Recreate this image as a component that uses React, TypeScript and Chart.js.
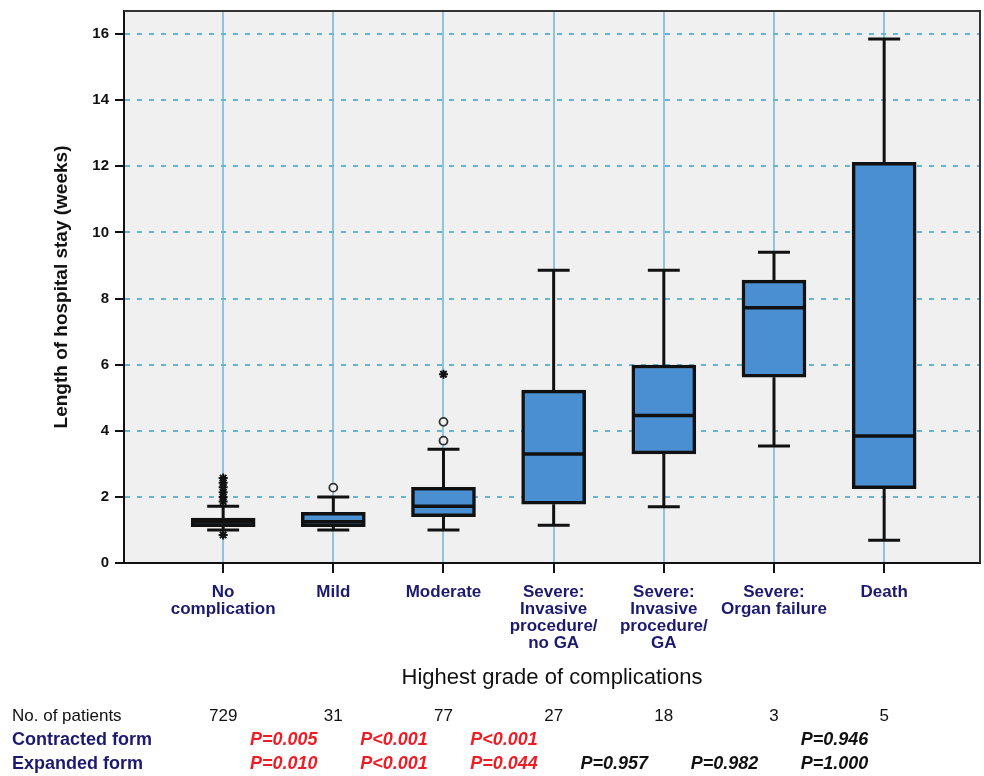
import React, { useEffect, useRef } from 'react';
import { Chart, registerables } from 'chart.js';

Chart.register(...registerables);

// ---- data ----
const categories: string[][] = [
  ['No', 'complication'],
  ['Mild'],
  ['Moderate'],
  ['Severe:', 'Invasive', 'procedure/', 'no GA'],
  ['Severe:', 'Invasive', 'procedure/', 'GA'],
  ['Severe:', 'Organ failure'],
  ['Death'],
];
const whiskerLow = [1.0, 1.0, 1.0, 1.14, 1.7, 3.54, 0.69];
const q1 = [1.1, 1.1, 1.4, 1.78, 3.3, 5.62, 2.25];
const medians = [1.24, 1.25, 1.72, 3.3, 4.46, 7.72, 3.84];
const q3 = [1.36, 1.53, 2.29, 5.23, 5.99, 8.56, 12.12];
const whiskerHigh = [1.72, 2.0, 3.44, 8.86, 8.86, 9.4, 15.85];
const circleOutliers: number[][] = [[], [2.28], [3.7, 4.27], [], [], [], []];
const starOutliers: number[][] = [[0.85, 1.86, 2.0, 2.14, 2.29, 2.43, 2.57], [], [5.71], [], [], [], []];
const yTickStep = 2;
const yMax = 16.7;
const patientCounts = ['729', '31', '77', '27', '18', '3', '5'];
const contractedP = ['P=0.005', 'P<0.001', 'P<0.001', '', '', 'P=0.946'];
const expandedP = ['P=0.010', 'P<0.001', 'P=0.044', 'P=0.957', 'P=0.982', 'P=1.000'];
const pSignificant = [true, true, true, false, false, false];

const FONT = '"Liberation Sans", Arial, sans-serif';
const NAVY = '#1c1a6e';
const RED = '#ee1c25';
const CAP = 0.145;
const MED = 0.27;

export default function App() {
  const ref = useRef<HTMLCanvasElement | null>(null);

  useEffect(() => {
    document.body.style.margin = '0';
    const canvas = ref.current;
    if (!canvas) return;

    const boxes = categories.map((_, i) => ({ x: i, y: [q1[i], q3[i]] }));
    const whiskers: any[] = [];
    const meds: any[] = [];
    categories.forEach((_, i) => {
      whiskers.push({ x: i, y: q3[i] }, { x: i, y: whiskerHigh[i] }, { x: i, y: null });
      whiskers.push({ x: i, y: q1[i] }, { x: i, y: whiskerLow[i] }, { x: i, y: null });
      whiskers.push({ x: i - CAP, y: whiskerHigh[i] }, { x: i + CAP, y: whiskerHigh[i] }, { x: i, y: null });
      whiskers.push({ x: i - CAP, y: whiskerLow[i] }, { x: i + CAP, y: whiskerLow[i] }, { x: i, y: null });
      meds.push({ x: i - MED, y: medians[i] }, { x: i + MED, y: medians[i] }, { x: i, y: null });
    });
    const circles = circleOutliers.flatMap((vals, i) => vals.map((v) => ({ x: i, y: v })));
    const stars = starOutliers.flatMap((vals, i) => vals.map((v) => ({ x: i, y: v })));

    const decor = {
      id: 'decor',
      beforeDraw(chart: any) {
        const { ctx, chartArea: a } = chart;
        ctx.save();
        ctx.fillStyle = '#ffffff';
        ctx.fillRect(0, 0, chart.width, chart.height);
        ctx.fillStyle = '#f0f0f0';
        ctx.fillRect(a.left, a.top, a.right - a.left, a.bottom - a.top);
        ctx.restore();
      },
      afterDraw(chart: any) {
        const { ctx, chartArea: a } = chart;
        const xs = chart.scales.x;
        ctx.save();
        ctx.strokeStyle = '#333';
        ctx.lineWidth = 2;
        ctx.beginPath();
        ctx.moveTo(a.left, a.top);
        ctx.lineTo(a.right, a.top);
        ctx.lineTo(a.right, a.bottom);
        ctx.stroke();

        // table rows
        ctx.textBaseline = 'alphabetic';
        ctx.textAlign = 'left';
        ctx.fillStyle = '#111';
        ctx.font = `17px ${FONT}`;
        ctx.fillText('No. of patients', 12, 721);
        ctx.textAlign = 'center';
        patientCounts.forEach((c, i) => {
          ctx.fillText(c, xs.getPixelForValue(i), 721);
        });
        ctx.textAlign = 'left';
        ctx.fillStyle = NAVY;
        ctx.font = `bold 18px ${FONT}`;
        ctx.fillText('Contracted form', 12, 745);
        ctx.fillText('Expanded form', 12, 769);
        ctx.font = `italic bold 18px ${FONT}`;
        ctx.textAlign = 'center';
        contractedP.forEach((p, i) => {
          if (!p) return;
          ctx.fillStyle = pSignificant[i] ? RED : '#111';
          ctx.fillText(p, xs.getPixelForValue(i + 0.55), 745);
        });
        expandedP.forEach((p, i) => {
          if (!p) return;
          ctx.fillStyle = pSignificant[i] ? RED : '#111';
          ctx.fillText(p, xs.getPixelForValue(i + 0.55), 769);
        });
        ctx.restore();
      },
    };

    const chart = new Chart(canvas, {
      type: 'bar',
      data: {
        datasets: [
          {
            type: 'line',
            data: whiskers,
            borderColor: '#111',
            borderWidth: 3,
            pointRadius: 0,
            spanGaps: false,
            order: 5,
          } as any,
          {
            type: 'bar',
            data: boxes,
            backgroundColor: '#4a8fd2',
            borderColor: '#111',
            borderWidth: 3.5,
            borderSkipped: false,
            barThickness: 64,
            order: 4,
          } as any,
          {
            type: 'line',
            data: meds,
            borderColor: '#111',
            borderWidth: 3.5,
            pointRadius: 0,
            spanGaps: false,
            order: 3,
          } as any,
          {
            type: 'scatter',
            data: circles,
            pointStyle: 'circle',
            pointRadius: 4,
            borderWidth: 1.8,
            borderColor: '#333',
            backgroundColor: '#f0f0f0',
            order: 2,
          } as any,
          {
            type: 'scatter',
            data: stars,
            pointStyle: 'star',
            pointRadius: 4.5,
            borderWidth: 2,
            borderColor: '#111',
            backgroundColor: '#111',
            order: 1,
          } as any,
        ],
      },
      options: {
        animation: false,
        responsive: true,
        maintainAspectRatio: false,
        events: [],
        layout: { autoPadding: false, padding: { top: 11, right: 4, left: 0, bottom: 0 } },
        plugins: { legend: { display: false }, tooltip: { enabled: false } },
        scales: {
          x: {
            type: 'linear',
            position: 'bottom',
            min: -0.9,
            max: 6.87,
            offset: false,
            afterFit: (s: any) => {
              s.height = 213;
              s.paddingLeft = 0;
              s.paddingRight = 0;
            },
            ticks: {
              stepSize: 1,
              includeBounds: false,
              autoSkip: false,
              maxRotation: 0,
              padding: 11,
              color: NAVY,
              font: { family: FONT, size: 17, weight: 'bold', lineHeight: '17px' },
              callback: (v: any) => categories[v] ?? '',
            },
            grid: {
              offset: false,
              color: '#8ec5dc',
              lineWidth: 2,
              tickColor: '#111',
              tickLength: 10,
              tickWidth: 2,
            },
            border: { color: '#111', width: 2 },
            title: {
              display: true,
              text: 'Highest grade of complications',
              color: '#111',
              font: { family: FONT, size: 22, weight: 'normal' },
              padding: { top: 0, bottom: 85 },
            },
          },
          y: {
            type: 'linear',
            min: 0,
            max: yMax,
            afterFit: (s: any) => {
              s.width = 124;
              s.paddingTop = 0;
              s.paddingBottom = 0;
            },
            ticks: {
              stepSize: yTickStep,
              includeBounds: false,
              padding: 6,
              color: '#111',
              font: { family: FONT, size: 15, weight: 'bold' },
            },
            grid: {
              color: '#69b3cf',
              lineWidth: 2,
              tickColor: '#111',
              tickLength: 9,
              tickWidth: 2,
            },
            border: { color: '#111', width: 2, dash: [5, 7] },
            title: {
              display: true,
              text: 'Length of hospital stay (weeks)',
              color: '#111',
              font: { family: FONT, size: 19, weight: 'bold' },
              padding: { top: 50, bottom: 0 },
            },
          },
        },
      },
      plugins: [decor],
    } as any);

    return () => chart.destroy();
  }, []);

  return (
    <div style={{ width: 984, height: 776, position: 'relative' }}>
      <canvas ref={ref} />
    </div>
  );
}
